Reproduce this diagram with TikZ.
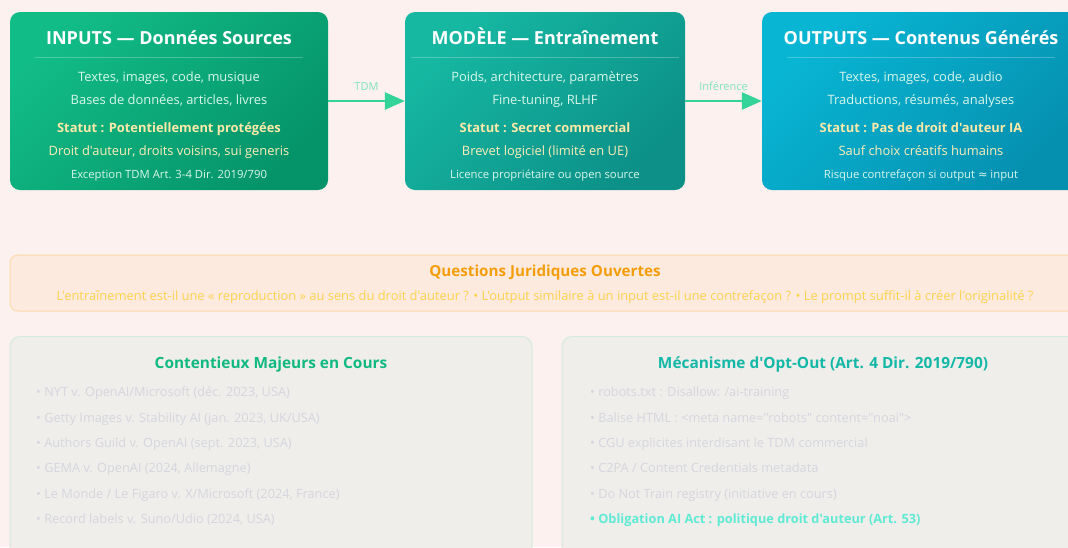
\documentclass[tikz,border=0pt]{standalone}
\usepackage{fontspec}
\setmainfont{Open Sans}[Ligatures=TeXOff]
\newfontfamily\symfont{DejaVu Sans}
\usetikzlibrary{arrows.meta,positioning}

\definecolor{pagebg}{HTML}{FDF1F0}
\definecolor{inA}{HTML}{12BC86}
\definecolor{inB}{HTML}{05946A}
\definecolor{mdA}{HTML}{16B8A2}
\definecolor{mdB}{HTML}{0C9088}
\definecolor{outA}{HTML}{08B6D4}
\definecolor{outB}{HTML}{0690B0}
\definecolor{flowc}{HTML}{34D399}
\definecolor{flowlbl}{HTML}{7EE3BF}
\definecolor{lightline}{HTML}{D8F7EA}
\definecolor{statc}{HTML}{FDE9A8}
\definecolor{qfill}{HTML}{FDEADF}
\definecolor{qdraw}{HTML}{FCD9A8}
\definecolor{qtitle}{HTML}{F59E0B}
\definecolor{qtext}{HTML}{FCD34D}
\definecolor{panelfill}{HTML}{EFEEEB}
\definecolor{paneldraw}{HTML}{D3EADF}
\definecolor{itemc}{HTML}{D5D6DE}
\definecolor{greent}{HTML}{10B981}
\definecolor{tealt}{HTML}{14B8A6}
\definecolor{aiact}{HTML}{5EEAD4}

\tikzset{
    stage/.style={rounded corners=10pt, minimum width=318pt, minimum height=178pt,
        inner sep=0pt, shading angle=45},
    txt/.style={anchor=base, inner sep=0pt},
    ttl/.style={txt, font=\bfseries\fontsize{18}{20}\selectfont, text=white},
    body/.style={txt, font=\fontsize{12.9}{16}\selectfont, text=lightline},
    stat/.style={txt, font=\bfseries\fontsize{12.9}{16}\selectfont, text=statc},
    statsub/.style={txt, font=\fontsize{12.9}{16}\selectfont, text=statc!80!white},
    note/.style={txt, font=\fontsize{11.3}{14}\selectfont, text=lightline},
    flow/.style={line width=2.6pt, flowc, -{Triangle[length=20pt, width=17pt]}},
    flowlabel/.style={font=\fontsize{11}{13}\selectfont, text=flowlbl},
    panel/.style={rounded corners=10pt, fill=panelfill, draw=paneldraw, line width=1pt,
        minimum width=522pt, minimum height=223pt, inner sep=0pt},
    ptitle/.style={txt, font=\bfseries\fontsize{15.4}{18}\selectfont},
    item/.style={anchor=base west, inner sep=0pt, font=\fontsize{12.75}{15}\selectfont, text=itemc}
}

\begin{document}
\begin{tikzpicture}[x=1pt, y=-1pt]

    \useasboundingbox (0,0) rectangle (1068,547);
    \clip (0,0) rectangle (1068,547);
    \fill[pagebg] (0,0) rectangle (1068,547);

    % Three stages of the pipeline
    \node[stage, top color=inA, bottom color=inB, shading angle=45] (inputs) at (169,101) {};
    \node[stage, minimum width=280pt, top color=mdA, bottom color=mdB, shading angle=45] (modele) at (545,101) {};
    \node[stage, top color=outA, bottom color=outB, shading angle=45] (outputs) at (921,101) {};

    \foreach \cx in {169, 545, 921} {
        \draw[white, opacity=0.25, line width=1pt] (\cx-134,57) -- (\cx+134,57);
    }

    % Inputs
    \node[ttl] (inT) at (169,44.5) {INPUTS — Données Sources};
    \node[body] (inA) at (169,81.5) {Textes, images, code, musique};
    \node[body] (inB) at (169,104.5) {Bases de données, articles, livres};
    \node[stat] (inS) at (169,132.5) {Statut : Potentiellement protégées};
    \node[statsub] (inD) at (169,155.5) {Droit d'auteur, droits voisins, sui generis};
    \node[note] (inN) at (169,178) {Exception TDM Art. 3-4 Dir. 2019/790};

    % Modele
    \node[ttl] (mdT) at (545,44.5) {MODÈLE — Entraînement};
    \node[body] (mdA) at (545,81.5) {Poids, architecture, paramètres};
    \node[body] (mdB) at (545,104.5) {Fine-tuning, RLHF};
    \node[stat] (mdS) at (545,132.5) {Statut : Secret commercial};
    \node[statsub] (mdD) at (545,155.5) {Brevet logiciel (limité en UE)};
    \node[note] (mdN) at (545,178) {Licence propriétaire ou open source};

    % Outputs
    \node[ttl] (outT) at (921,44.5) {OUTPUTS — Contenus Générés};
    \node[body] (outA) at (921,81.5) {Textes, images, code, audio};
    \node[body] (outB) at (921,104.5) {Traductions, résumés, analyses};
    \node[stat] (outS) at (921,132.5) {Statut : Pas de droit d'auteur IA};
    \node[statsub] (outD) at (921,155.5) {Sauf choix créatifs humains};
    \node[note] (outN) at (921,178) {Risque contrefaçon si output {\symfont ≈} input};

    % Flows
    \draw[flow] (inputs.east) -- (modele.west) node[midway, above=6pt, flowlabel] (tdm) {TDM};
    \draw[flow] (modele.east) -- (outputs.west) node[midway, above=6pt, flowlabel] (inf) {Inférence};

    % Open questions
    \node[rounded corners=8pt, fill=qfill, draw=qdraw, line width=1pt,
        minimum width=1070pt, minimum height=56pt] (questions) at (545,283) {};
    \node[txt, font=\bfseries\fontsize{15.2}{17}\selectfont, text=qtitle] (qT) at (545,276.5) {Questions Juridiques Ouvertes};
    \node[txt, font=\fontsize{12.9}{15}\selectfont, text=qtext] (qL) at (545,300.5)
        {L'entraînement est-il une « reproduction » au sens du droit d'auteur ? • L'output similaire à un input est-il une contrefaçon ? • Le prompt suffit-il à créer l'originalité ?};

    % Litigation panel
    \node[panel] (cases) at (271,448) {};
    \node[ptitle, text=greent] (casesT) at (271,368.5) {Contentieux Majeurs en Cours};
    \foreach \txt [count=\i] in {
        NYT v. OpenAI/Microsoft (déc. 2023{,} USA),
        Getty Images v. Stability AI (jan. 2023{,} UK/USA),
        Authors Guild v. OpenAI (sept. 2023{,} USA),
        GEMA v. OpenAI (2024{,} Allemagne),
        Le Monde / Le Figaro v. X/Microsoft (2024{,} France),
        Record labels v. Suno/Udio (2024{,} USA)} {
        \node[item] (case\i) at (36,371.2+25.4*\i) {• \txt};
    }

    % Opt-out panel
    \node[panel] (optout) at (823,448) {};
    \node[ptitle, text=tealt] (optT) at (823,368.5) {Mécanisme d'Opt-Out (Art. 4 Dir. 2019/790)};
    \foreach \txt [count=\i] in {
        robots.txt : Disallow: /ai-training,
        Balise HTML : <meta name="robots" content="noai">,
        CGU explicites interdisant le TDM commercial,
        C2PA / Content Credentials metadata,
        Do Not Train registry (initiative en cours)} {
        \node[item] (opt\i) at (590,371.2+25.4*\i) {• \txt};
    }
    \node[item, font=\bfseries\fontsize{12.75}{15}\selectfont, text=aiact] (opt6) at (590,523.6)
        {• Obligation AI Act : politique droit d'auteur (Art. 53)};

\end{tikzpicture}
\end{document}
